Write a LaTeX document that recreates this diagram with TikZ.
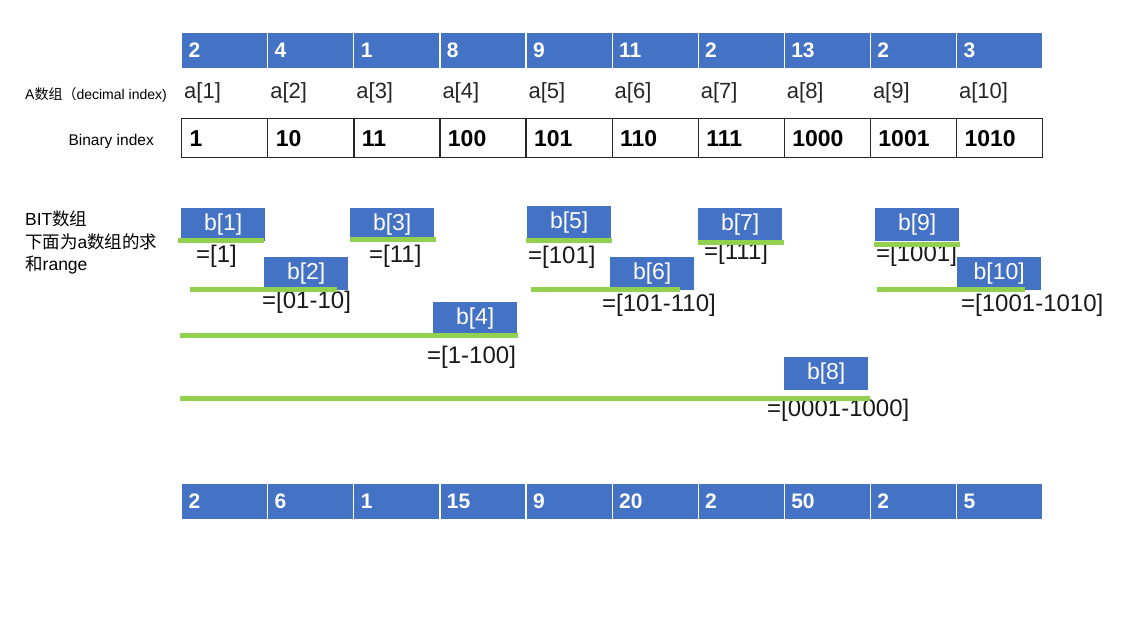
\documentclass[tikz,border=0pt]{standalone}
\usepackage{fontspec}
\setmainfont{Liberation Sans}
\newfontfamily\cjk{Noto Sans CJK SC}
\usetikzlibrary{positioning}
\definecolor{cellblue}{HTML}{4472C4}
\definecolor{rangegreen}{HTML}{92D050}
\tikzset{
  valcell/.style={anchor=north west,fill=cellblue,draw=white,line width=1.2pt,
    minimum width=86.1pt,minimum height=36pt,inner xsep=7pt,inner ysep=0pt,
    text width=72.1pt,align=left,text=white,font=\fontsize{21}{25}\selectfont\bfseries},
  idxcell/.style={anchor=north west,draw=black!85,line width=1.3pt,
    minimum width=86.1pt,minimum height=39pt,inner xsep=8pt,inner ysep=0pt,
    text width=70.1pt,align=left,font=\fontsize{23}{27}\selectfont\bfseries},
  alabel/.style={anchor=west,inner sep=0pt,text=black!85,font=\fontsize{22}{26}\selectfont},
  bitbox/.style={anchor=north west,fill=cellblue,minimum width=84pt,minimum height=33pt,
    inner sep=0pt,text=white,font=\fontsize{23}{27}\selectfont},
  rlabel/.style={anchor=west,inner sep=0pt,text=black!90,font=\fontsize{24}{28}\selectfont},
  sumbar/.style={rangegreen,line width=5pt},
  side/.style={anchor=west,inner sep=0pt,font=\fontsize{14}{17}\selectfont}
}
\begin{document}
\begin{tikzpicture}[x=1pt,y=-1pt]
  \useasboundingbox (0,0) rectangle (1128,618);
  % a array, indices, BIT sums
  \foreach \v [count=\i] in {2,4,1,8,9,11,2,13,2,3}
    \node[valcell] (t\i) at ({181+86.1*(\i-1)},32) {\v};
  \foreach \i in {1,...,10}
    \node[alabel] (a\i) at ({184+86.1*(\i-1)},93) {a[\i]};
  \foreach \v [count=\i] in {1,10,11,100,101,110,111,1000,1001,1010}
    \node[idxcell] (k\i) at ({181+86.1*(\i-1)},118) {\v};
  \foreach \v [count=\i] in {2,6,1,15,9,20,2,50,2,5}
    \node[valcell] (s\i) at ({181+86.1*(\i-1)},483) {\v};
  % side labels
  \node[side] (atitle) at (25,95) {A{\cjk 数组（}decimal index)};
  \node[side,anchor=east,font=\fontsize{15.5}{18}\selectfont] (ktitle) at (154,141) {Binary index};
  \node[anchor=north west,inner sep=0pt,align=left,font=\fontsize{17.5}{22.5}\selectfont]
    (btitle) at (25,211) {BIT{\cjk 数组}\\{\cjk 下面为}a{\cjk 数组的求}\\{\cjk 和}range};
  % BIT boxes with their ranges
  \foreach \n/\bx/\by/\gl/\gr/\gy/\lx/\ly/\txt in {
      1/181/208/178/264/240/196/256/{=[1]},
      2/264/257/190/337/289.5/262/302/{=[01-10]},
      3/350/208/350/436/239/369/256/{=[11]},
      4/433/302/180/518/335/427/357/{=[1-100]},
      5/527/206/526/612/240/528/257/{=[101]},
      6/610/257/531/680/289.5/602/305/{=[101-110]},
      7/698/208/698/784/242/704/253/{=[111]},
      8/784/357/180/870/398/767/410/{=[0001-1000]},
      9/875/208/874/960/244/876/255/{=[1001]},
      10/957/257/877/1025/289.5/961/305/{=[1001-1010]}}{
    \node[bitbox] (b\n) at (\bx,\by) {b[\n]};
    \node[rlabel] (r\n) at (\lx,\ly) {\txt};
    \draw[sumbar] (\gl,\gy) -- (\gr,\gy);
  }
\end{tikzpicture}
\end{document}
